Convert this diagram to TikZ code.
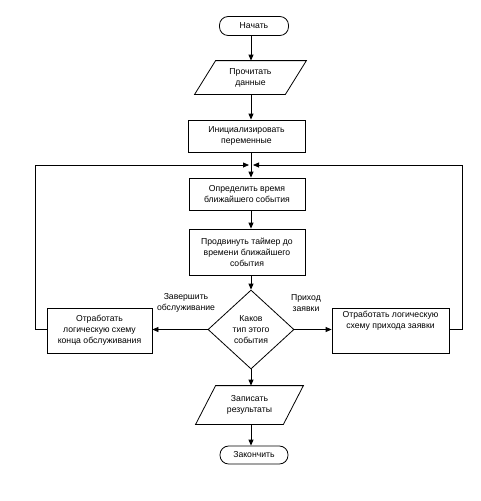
\documentclass[tikz,border=0pt]{standalone}
\usepackage{fontspec}
\setmainfont{Liberation Sans}
\usetikzlibrary{shapes.geometric,arrows.meta}
\tikzset{
  base/.style={font=\fontsize{6.5}{8.25}\selectfont, align=center, inner sep=0pt, line width=0.6pt},
  proc/.style={base, draw, rectangle},
  term/.style={base, draw, rectangle, rounded corners=6.5pt},
  iobox/.style={base, rectangle},
  decis/.style={base, draw, diamond},
  lbl/.style={base},
  arr/.style={line width=0.6pt, -{Triangle[length=4.5pt,width=3.75pt]}},
  ln/.style={line width=0.6pt},
}
\begin{document}
\begin{tikzpicture}[x=0.75pt,y=-0.75pt]
\useasboundingbox (0,0) rectangle (481,501);
\coordinate (axis) at (251,0);
\coordinate (LT) at (35,165);
\coordinate (RT) at (462,165);
\coordinate (JL) at (249,165);
\coordinate (JR) at (253,165);

\node[term, minimum width=51.75pt, minimum height=14.25pt] (start) at (254,26) {Начать};
\node[iobox, minimum width=67.5pt, minimum height=24.75pt] (read) at (250.5,77.5) {Прочитать\\данные};
\draw[ln] ([xshift=7.875pt]read.north west) -- ([xshift=7.875pt]read.north east)
  -- ([xshift=-7.875pt]read.south east) -- ([xshift=-7.875pt]read.south west) -- cycle;
\node[proc, minimum width=87.75pt, minimum height=24pt] (init) at (246.5,136) {Инициализировать\\переменные};
\node[proc, minimum width=87pt, minimum height=24pt] (det) at (247,194) {Определить время\\ближайшего события};
\node[proc, minimum width=87pt, minimum height=34.5pt] (adv) at (247,252) {Продвинуть таймер до\\времени ближайшего\\события};
\node[decis, minimum width=64.5pt, minimum height=59.25pt] (dec) at (251,329.5) {Каков\\тип этого\\события};
\node[proc, minimum width=78.75pt, minimum height=33.75pt] (lb) at (99.5,330.5) {Отработать\\логическую схему\\конца обслуживания};
\node[proc, minimum width=87.75pt, minimum height=33.75pt] (rb) at (390.5,330.5) {Отработать логическую\\схему прихода заявки\\[8.25pt]};
\node[iobox, minimum width=65.25pt, minimum height=28.5pt] (res) at (249.5,405) {Записать\\результаты};
\draw[ln] ([xshift=7.5pt]res.north west) -- ([xshift=7.5pt]res.north east)
  -- ([xshift=-7.5pt]res.south east) -- ([xshift=-7.5pt]res.south west) -- cycle;
\node[term, minimum width=51pt, minimum height=13.5pt] (end) at (254,455) {Закончить};

\node[lbl] (lzav) at (186,303) {Завершить\\обслуживание};
\node[lbl] (lpri) at (306,303) {Приход\\заявки};

\draw[arr] (start.south -| axis) -- (read.north -| axis);
\draw[arr] (read.south -| axis) -- (init.north -| axis);
\draw[arr] (init.south -| axis) -- (det.north -| axis);
\draw[arr] (det.south -| axis) -- (adv.north -| axis);
\draw[arr] (adv.south -| axis) -- (dec.north);
\draw[arr] (dec.west) -- (dec.west -| lb.east);
\draw[arr] (dec.east) -- (dec.east -| rb.west);
\draw[arr] (dec.south) -- (res.north -| axis);
\draw[arr] (res.south -| axis) -- (end.north -| axis);
\draw[arr] (dec.west -| lb.west) -- (dec.west -| LT) -- (LT) -- (JL);
\draw[arr] (dec.east -| rb.east) -- (dec.east -| RT) -- (RT) -- (JR);
\end{tikzpicture}
\end{document}
